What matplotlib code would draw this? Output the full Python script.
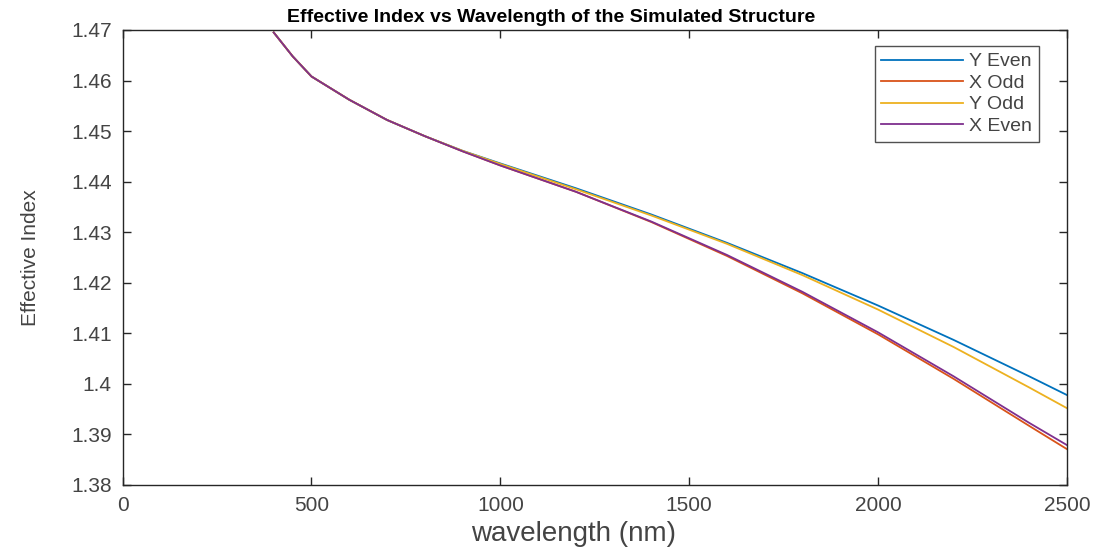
import matplotlib
matplotlib.use('Agg')
import matplotlib.pyplot as plt
from matplotlib.ticker import FuncFormatter

# datos
wavelength = [400, 450, 500, 600, 700, 800, 900, 1000, 1200, 1400, 1600, 1800, 2000, 2200, 2400, 2500]
y_even = [1.4695, 1.4648, 1.4608, 1.4562, 1.4522, 1.4490, 1.4461, 1.4436, 1.4387, 1.4335, 1.4279, 1.4219, 1.4155, 1.4087, 1.4015, 1.3978]
x_odd = [1.4695, 1.4648, 1.4608, 1.4562, 1.4522, 1.4490, 1.4460, 1.4432, 1.4380, 1.4320, 1.4253, 1.4179, 1.4098, 1.4010, 1.3917, 1.3871]
y_odd = [1.4695, 1.4648, 1.4608, 1.4562, 1.4522, 1.4490, 1.4461, 1.4435, 1.4385, 1.4333, 1.4277, 1.4215, 1.4147, 1.4073, 1.3993, 1.3952]
x_even = [1.4695, 1.4648, 1.4608, 1.4562, 1.4522, 1.4490, 1.4460, 1.4432, 1.4380, 1.4321, 1.4255, 1.4182, 1.4102, 1.4015, 1.3923, 1.3879]

series = [('Y Even', y_even, '#0072BD'),
          ('X Odd', x_odd, '#D95319'),
          ('Y Odd', y_odd, '#EDB120'),
          ('X Even', x_even, '#7E2F8E')]

xticks = [0, 500, 1000, 1500, 2000, 2500]
yticks = [1.38, 1.39, 1.40, 1.41, 1.42, 1.43, 1.44, 1.45, 1.46, 1.47]

plt.rcParams['font.family'] = ['Liberation Sans', 'DejaVu Sans']

fig = plt.figure(figsize=(11.05, 5.49), dpi=100)
ax = fig.add_axes([0.111, 0.1166, 0.8545, 0.8288])

for name, vals, col in series:
    ax.plot(wavelength, vals, color=col, lw=1.3, label=name)

ax.set_xlim(0, 2500)
ax.set_ylim(1.38, 1.47)
ax.set_xticks(xticks)
ax.set_yticks(yticks)
ax.yaxis.set_major_formatter(FuncFormatter(lambda v, p: '%g' % round(v, 2)))

ax.tick_params(direction='in', length=6, width=1, top=True, right=True,
               labelsize=15, colors='#262626', labelcolor='#444444', pad=8)
for s in ax.spines.values():
    s.set_color('#262626')
    s.set_linewidth(1)

ax.set_title('Effective Index vs Wavelength of the Simulated Structure',
             fontsize=14, fontweight='bold', x=0.454, pad=6)
ax.set_xlabel('wavelength (nm)', fontsize=20, color='#444444', x=0.478, labelpad=4)
ax.set_ylabel('Effective Index', fontsize=15, color='#444444', labelpad=22,
              fontstretch='condensed')

leg = ax.legend(loc='upper right', bbox_to_anchor=(0.970, 0.965), borderaxespad=0,
                fontsize=14, handlelength=4.2, labelspacing=0.2, fancybox=False,
                handletextpad=0.3, borderpad=0.35)
leg.get_frame().set_edgecolor('#262626')
leg.get_frame().set_linewidth(1)
for t in leg.get_texts():
    t.set_color('#444444')

fig.savefig('out.png', dpi=100)
